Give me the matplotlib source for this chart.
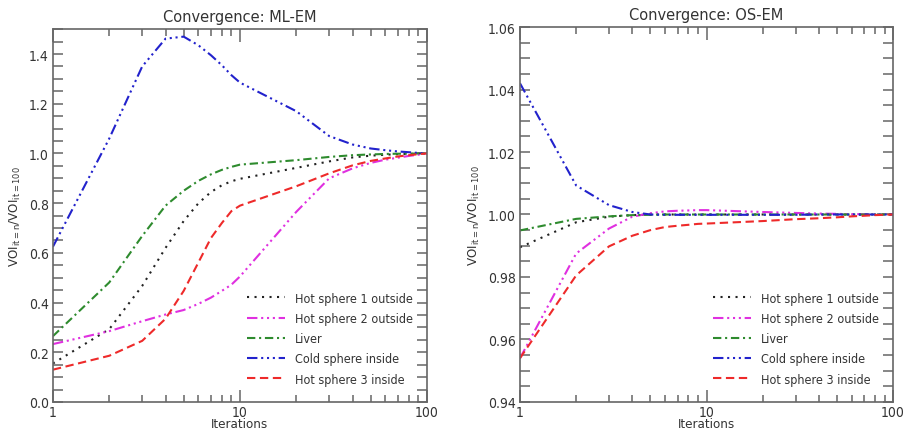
import matplotlib
matplotlib.use("Agg")
import matplotlib.pyplot as plt
from matplotlib.ticker import MultipleLocator, NullFormatter, FixedLocator, LogLocator

plt.rcParams['font.family'] = ['DejaVu Sans']
plt.rcParams['font.stretch'] = 'condensed'
plt.rcParams['mathtext.fontset'] = 'dejavusans'

# ---- data ----
iterations = [1, 2, 3, 4, 5, 6, 7, 8, 9, 10, 20, 30, 40, 50, 60, 70, 80, 90, 100]

labels = ["Hot sphere 1 outside", "Hot sphere 2 outside", "Liver",
          "Cold sphere inside", "Hot sphere 3 inside"]

mlem_hot1 = [0.155, 0.293, 0.467, 0.620, 0.728, 0.800, 0.845, 0.872, 0.888, 0.898,
             0.942, 0.968, 0.984, 0.991, 0.995, 0.997, 0.998, 0.999, 1.000]
mlem_hot2 = [0.233, 0.285, 0.325, 0.352, 0.370, 0.395, 0.420, 0.447, 0.472, 0.505,
             0.765, 0.900, 0.940, 0.962, 0.975, 0.983, 0.990, 0.995, 1.000]
mlem_liver = [0.265, 0.481, 0.668, 0.790, 0.850, 0.890, 0.916, 0.934, 0.946, 0.955,
              0.973, 0.986, 0.993, 0.996, 0.998, 0.999, 0.999, 1.000, 1.000]
mlem_cold = [0.625, 1.060, 1.350, 1.462, 1.470, 1.435, 1.395, 1.355, 1.315, 1.285,
             1.170, 1.070, 1.036, 1.020, 1.013, 1.008, 1.005, 1.002, 1.000]
mlem_hot3 = [0.130, 0.186, 0.246, 0.335, 0.447, 0.562, 0.660, 0.720, 0.768, 0.790,
             0.868, 0.920, 0.952, 0.970, 0.980, 0.988, 0.993, 0.997, 1.000]

osem_hot1 = [0.9895, 0.9975, 0.9993, 0.9998, 1.0000, 1.0000, 1.0000, 1.0000, 1.0000, 1.0000,
             1.0000, 1.0000, 1.0000, 1.0000, 1.0000, 1.0000, 1.0000, 1.0000, 1.0000]
osem_hot2 = [0.9540, 0.9875, 0.9955, 0.9993, 1.0004, 1.0010, 1.0012, 1.0013, 1.0014, 1.0014,
             1.0008, 1.0005, 1.0003, 1.0002, 1.0001, 1.0001, 1.0000, 1.0000, 1.0000]
osem_liver = [0.9949, 0.9986, 0.9994, 0.9998, 0.9999, 1.0000, 1.0000, 1.0000, 1.0000, 1.0000,
              1.0000, 1.0000, 1.0000, 1.0000, 1.0000, 1.0000, 1.0000, 1.0000, 1.0000]
osem_cold = [1.0420, 1.0093, 1.0030, 1.0008, 1.0000, 0.9999, 0.9999, 0.9999, 0.9999, 0.9999,
             0.9999, 0.9999, 1.0000, 1.0000, 1.0000, 1.0000, 1.0000, 1.0000, 1.0000]
osem_hot3 = [0.9540, 0.9805, 0.9898, 0.9932, 0.9950, 0.9960, 0.9964, 0.9967, 0.9970, 0.9971,
             0.9979, 0.9985, 0.9988, 0.9991, 0.9994, 0.9996, 0.9998, 0.9999, 1.0000]

# ---- styles ----
colors = ["#222222", "#e030e0", "#2e8b2e", "#2222cc", "#ee2a2a"]
styles = [(0, (1, 2.6)),
          (0, (5, 1.8, 1, 1.8, 1, 1.8, 1, 1.8)),
          (0, (4, 1.8, 1, 1.8)),
          (0, (5, 1.8, 1, 1.8, 1, 1.8, 1, 1.8)),
          (0, (4, 2.2))]

fig = plt.figure(figsize=(9.1, 4.35), dpi=100)
axL = fig.add_axes([0.0582, 0.0736, 0.411, 0.857])
axR = fig.add_axes([0.5714, 0.0736, 0.410, 0.862])

def style_axis(ax, title):
    ax.set_xscale('log')
    ax.set_xlim(1, 100)
    ax.xaxis.set_major_locator(FixedLocator([1, 10, 100]))
    ax.set_xticklabels(['1', '10', '100'])
    ax.xaxis.set_minor_locator(LogLocator(base=10, subs=range(2, 10)))
    ax.xaxis.set_minor_formatter(NullFormatter())
    for s in ax.spines.values():
        s.set_color('#666666')
        s.set_linewidth(1.2)
    ax.tick_params(axis='both', which='both', direction='in', top=True, right=True,
                   colors='#666666', labelcolor='#333333', labelsize=10, width=1.1)
    ax.tick_params(axis='x', which='major', length=9, pad=2)
    ax.tick_params(axis='x', which='minor', length=5)
    ax.tick_params(axis='y', which='both', length=7, pad=3)
    ax.set_title(title, fontsize=10.5, color='#333333', pad=6, fontstretch='normal')
    ax.set_xlabel('Iterations', fontsize=9.5, color='#333333', labelpad=-1)
    ax.set_ylabel(r'VOI$_{\mathrm{it=n}}$/VOI$_{\mathrm{it=100}}$', fontsize=9.5,
                  color='#333333')

for ax, series, title in [
        (axL, [mlem_hot1, mlem_hot2, mlem_liver, mlem_cold, mlem_hot3], 'Convergence: ML-EM'),
        (axR, [osem_hot1, osem_hot2, osem_liver, osem_cold, osem_hot3], 'Convergence: OS-EM')]:
    for y, c, ls, lab in zip(series, colors, styles, labels):
        ax.plot(iterations, y, color=c, linestyle=ls, linewidth=1.5, label=lab)
    style_axis(ax, title)
    ax.legend(loc='lower right', frameon=False, fontsize=9, handlelength=3.0,
              labelspacing=0.58, borderaxespad=0.9, handletextpad=0.8,
              labelcolor='#333333', bbox_to_anchor=(1.005, 0.0))

axL.set_ylim(0, 1.5)
axL.yaxis.set_major_locator(FixedLocator([0.0, 0.2, 0.4, 0.6, 0.8, 1.0, 1.2, 1.4]))
axL.set_yticklabels(['0.0', '0.2', '0.4', '0.6', '0.8', '1.0', '1.2', '1.4'])
axL.yaxis.set_minor_locator(MultipleLocator(0.05))

axR.set_ylim(0.94, 1.06)
axR.yaxis.set_major_locator(FixedLocator([0.94, 0.96, 0.98, 1.00, 1.02, 1.04, 1.06]))
axR.set_yticklabels(['0.94', '0.96', '0.98', '1.00', '1.02', '1.04', '1.06'])
axR.yaxis.set_minor_locator(MultipleLocator(0.005))

fig.savefig('out.png', dpi=100)
